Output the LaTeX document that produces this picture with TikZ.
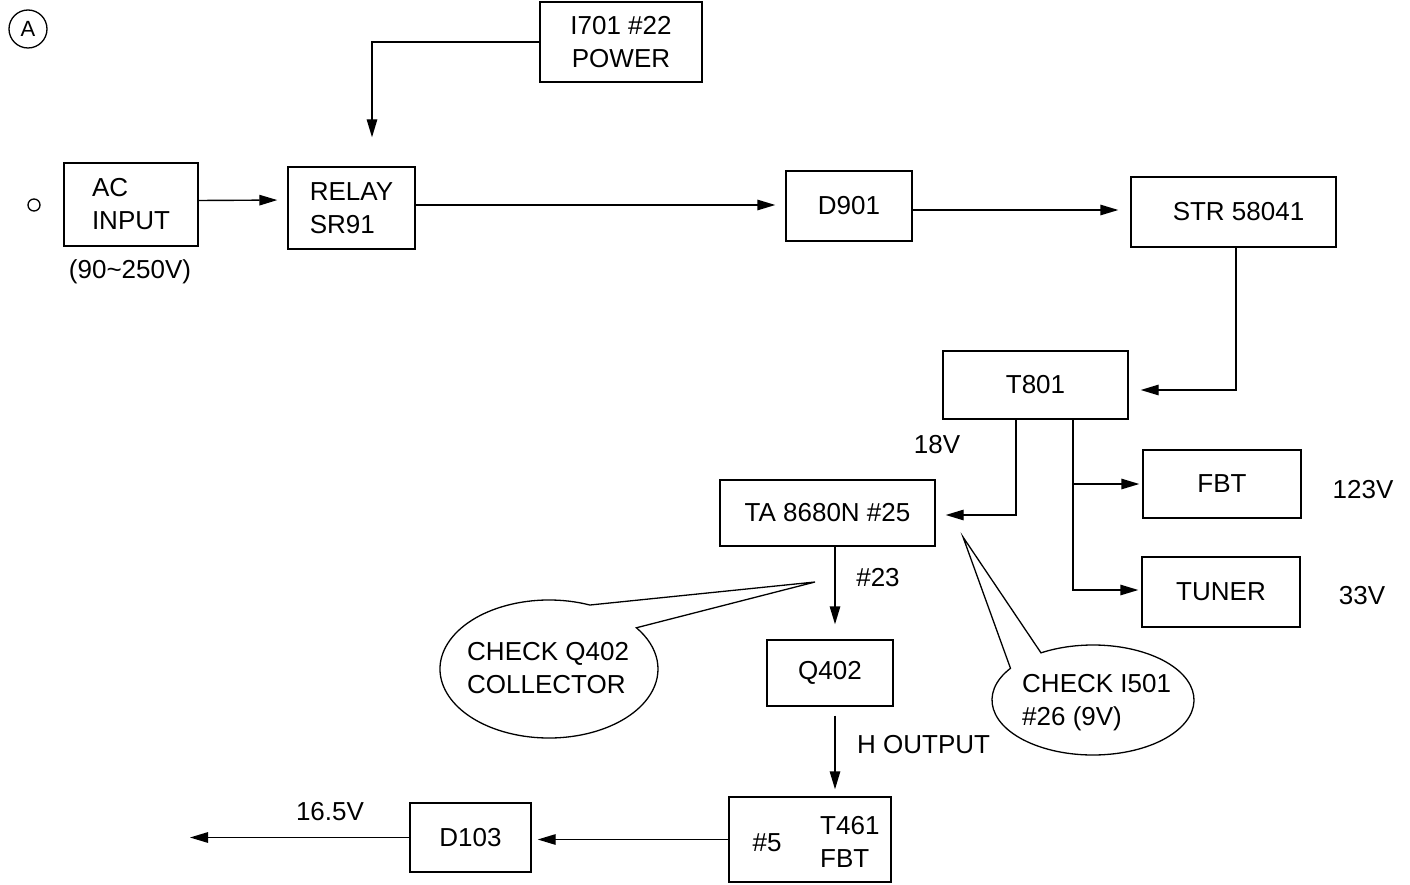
\documentclass[tikz,border=0pt]{standalone}
\usepackage{fontspec}
\setmainfont{Liberation Sans}
\usetikzlibrary{arrows.meta,calc}
\begin{document}
\begin{tikzpicture}[x=1pt,y=-1pt,
  box/.style={draw,line width=1.4pt,inner sep=0pt,font=\fontsize{26}{33}\selectfont},
  arr/.style={line width=1.4pt,-{Triangle[length=18pt,width=10.5pt]}},
  ln/.style={line width=1.3pt},
  lbl/.style={font=\fontsize{26}{33}\selectfont,inner sep=0pt},
]
\useasboundingbox (0,0) rectangle (1410,885);

% marks
\node[draw,circle,line width=1.3pt,minimum size=38pt,inner sep=0pt,font=\fontsize{22}{22}\selectfont] (markA) at (28,29) {A};
\node[draw,circle,line width=1.3pt,minimum size=12pt,inner sep=0pt] (term) at (34,205) {};

% boxes
\node[box,minimum width=134pt,minimum height=83pt,align=left] (ac) at (131,204.5) {AC\\INPUT};
\node[box,minimum width=127pt,minimum height=82pt,align=left] (relay) at (351.5,208) {RELAY\\SR91};
\node[box,minimum width=162pt,minimum height=80pt,align=center] (i701) at (621,42) {I701 \#22\\POWER};
\node[box,minimum width=126pt,minimum height=70pt] (d901) at (849,206) {D901};
\node[box,minimum width=205pt,minimum height=70pt] (str) at (1233.5,212) {\hspace*{10pt}STR 58041};
\node[box,minimum width=185pt,minimum height=68pt] (t801) at (1035.5,385) {T801};
\node[box,minimum width=215pt,minimum height=66pt] (ta) at (827.5,513) {TA 8680N \#25};
\node[box,minimum width=158pt,minimum height=68pt] (fbt) at (1222,484) {FBT};
\node[box,minimum width=158pt,minimum height=70pt] (tuner) at (1221,592) {TUNER};
\node[box,minimum width=126pt,minimum height=66pt] (q402) at (830,673) {Q402};
\node[box,minimum width=162pt,minimum height=85pt] (t461) at (810,839.5) {};
\node[lbl] (t461pin) at (767,843) {\#5};
\node[lbl,align=left,anchor=west] (t461txt) at (820,842) {T461\\FBT};
\node[box,minimum width=121pt,minimum height=69pt] (d103) at (470.5,837.5) {D103};

% labels
\node[lbl] (acv) at (130,272) {(90\textasciitilde 250V)};
\node[lbl] (v18) at (937,445) {18V};
\node[lbl] (v123) at (1363,490) {123V};
\node[lbl] (v33) at (1362,596) {33V};
\node[lbl] (p23) at (878,578) {\#23};
\node[lbl,anchor=west] (hout) at (857,745) {H OUTPUT};
\node[lbl] (v165) at (330,812) {16.5V};

% connectors
\draw[arr,shorten >=10pt] ($(ac.east)+(0,-4)$) -- ($(relay.west)+(0,-8)$);
\draw[arr,shorten >=29pt] (i701.west) -| ($(relay.north)+(20.5,0)$);
\draw[arr,shorten >=10pt] ($(relay.east)+(0,-3)$) -- ($(d901.west)+(0,-1)$);
\draw[arr,shorten >=12pt] ($(d901.east)+(0,4)$) -- ($(str.west)+(0,-2)$);
\draw[arr,shorten >=12pt] ($(str.south)+(2.5,0)$) |- ($(t801.east)+(0,5)$);
\draw[arr,shorten >=10pt] ($(t801.south)+(-19.5,0)$) |- ($(ta.east)+(0,2)$);
\coordinate (tap) at ($(t801.south)+(37.5,0)$);
\draw[arr,shorten >=3pt] (tap) |- ($(tuner.west)+(0,-2)$);
\draw[arr,shorten >=3pt] (tap |- fbt.west) -- (fbt.west);
\draw[arr,shorten >=15pt] ($(ta.south)+(7.5,0)$) -- ($(q402.north)+(5,0)$);
\draw[arr,shorten <=9pt,shorten >=7pt] ($(q402.south)+(5,0)$) -- ($(t461.north)+(25,0)$);
\draw[arr,shorten >=6pt] (t461.west) -- (t461.west -| d103.east);
\coordinate (out) at (190,837.5);
\draw[arr] (d103.west) -- (out);

% callout 1
\coordinate (c1) at (549,669);
\coordinate (tip1) at (815,582);
\draw[ln] ($(c1)+(-36.7:109 and 69)$) -- (tip1) -- ($(c1)+(-68:109 and 69)$)
  arc[start angle=-68,end angle=-396.7,x radius=109,y radius=69] -- cycle;
\node[lbl,align=left,anchor=west] (call1) at (467,668) {CHECK Q402\\COLLECTOR};

% callout 2
\coordinate (c2) at (1093,700);
\coordinate (tip2) at (963,537);
\draw[ln] ($(c2)+(-121:101 and 55)$) -- (tip2) -- ($(c2)+(-144.8:101 and 55)$)
  arc[start angle=-144.8,end angle=-481,x radius=101,y radius=55] -- cycle;
\node[lbl,align=left,anchor=west] (call2) at (1022,703) {CHECK I501\\\#26 (9V)};
\end{tikzpicture}
\end{document}
